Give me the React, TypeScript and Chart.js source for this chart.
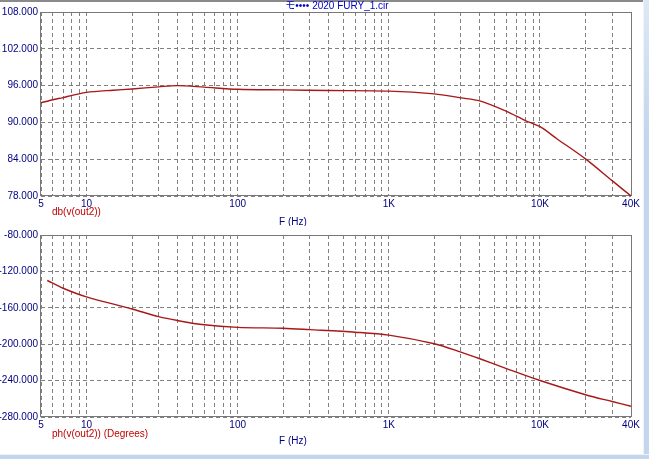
import React, { useEffect, useRef } from 'react';
import { Chart, registerables } from 'chart.js';

Chart.register(...registerables);

// ---- data ----
const magFreqs = [5, 6, 7, 8, 10, 15, 20, 30, 40, 60, 100, 200, 400, 1000, 2000, 3000, 4000, 6000, 8000, 10000, 13000, 20000, 30000, 40000];
const magDb = [93.2, 93.7, 94.05, 94.4, 94.9, 95.25, 95.45, 95.8, 96.0, 95.75, 95.4, 95.3, 95.2, 95.1, 94.65, 94.0, 93.5, 91.8, 90.3, 89.3, 87.3, 84.05, 80.5, 78.0];

const phaseFreqs = [5.5, 7, 10, 20, 30, 40, 60, 100, 200, 300, 600, 1000, 2000, 3000, 4000, 6000, 10000, 20000, 30000, 40000];
const phaseDeg = [-130, -138.5, -148, -161.3, -169.7, -174, -178.7, -181.5, -182.5, -184, -186.8, -190, -199.5, -208.7, -216, -226.8, -239.9, -255.5, -263, -268.2];

const xTicks = [5, 6, 7, 8, 9, 10, 20, 30, 40, 50, 60, 70, 80, 90, 100, 200, 300, 400, 500, 600, 700, 800, 900, 1000, 2000, 3000, 4000, 5000, 6000, 7000, 8000, 9000, 10000, 20000, 30000, 40000];
const xTickLabels: Record<number, string> = { 5: '5', 10: '10', 100: '100', 1000: '1K', 10000: '10K', 40000: '40K' };

const magTicks = [78, 84, 90, 96, 102, 108];
const phaseTicks = [-280, -240, -200, -160, -120, -80];

const titleText = 'モ•••• 2020 FURY_1.cir';
const xAxisLabel = 'F (Hz)';
const magLabel = 'db(v(out2))';
const phaseLabel = 'ph(v(out2)) (Degrees)';

// ---- styles ----
const FONT = "'Liberation Sans', 'Noto Sans CJK JP', sans-serif";
const NAVY = '#000080';
const RED_TEXT = '#c00000';
const CURVE = '#a81818';
const GRID = '#808080';
const W = 643;

type PanelOpts = {
  freqs: number[];
  values: number[];
  yTicks: number[];
  label: string;
  labelDy: number;
  fDy: number;
  padTop: number;
  xHeight: number;
  title?: string;
};

function makeChart(canvas: HTMLCanvasElement, p: PanelOpts) {
  const decor = {
    id: 'decor',
    beforeDatasetsDraw(chart: any) {
      const { ctx, chartArea: a } = chart;
      ctx.save();
      ctx.strokeStyle = '#787878';
      ctx.lineWidth = 1;
      ctx.setLineDash([]);
      const l = Math.round(a.left) - 0.5;
      const t = Math.round(a.top) + 0.5;
      ctx.strokeRect(l, t, Math.round(a.right) - l + 0.5, Math.round(a.bottom) - t - 0.5);
      ctx.restore();
    },
    afterDraw(chart: any) {
      const { ctx, chartArea: a } = chart;
      ctx.save();
      ctx.font = `10px ${FONT}`;
      ctx.textBaseline = 'middle';
      ctx.textAlign = 'left';
      ctx.fillStyle = RED_TEXT;
      ctx.fillText(p.label, a.left + 11, a.bottom + p.labelDy);
      ctx.fillStyle = NAVY;
      ctx.textAlign = 'center';
      ctx.fillText(xAxisLabel, a.left + 252, a.bottom + p.fDy);
      if (p.title) {
        ctx.fillStyle = '#0000cc';
        ctx.fillText(p.title, (a.left + a.right) / 2 + 1, 6.5);
      }
      ctx.restore();
    },
  };

  return new Chart(canvas, {
    type: 'line',
    data: {
      datasets: [
        {
          data: p.freqs.map((f, i) => ({ x: f, y: p.values[i] })),
          borderColor: CURVE,
          borderWidth: 1.4,
          pointRadius: 0,
          tension: 0.3,
          fill: false,
        },
      ],
    },
    options: {
      responsive: false,
      animation: false,
      layout: { padding: { top: p.padTop, right: W - 631, left: 0, bottom: 0 } },
      plugins: { legend: { display: false }, tooltip: { enabled: false }, title: { display: false } },
      scales: {
        x: {
          type: 'logarithmic',
          min: 5,
          max: 40000,
          afterBuildTicks: (s: any) => {
            s.ticks = xTicks.map((v) => ({ value: v }));
          },
          afterFit: (s: any) => {
            s.height = p.xHeight;
          },
          ticks: {
            autoSkip: false,
            maxRotation: 0,
            minRotation: 0,
            padding: 2,
            color: NAVY,
            font: { family: FONT, size: 10 },
            callback: (v: any) => xTickLabels[Number(v)] ?? '',
          },
          grid: { color: GRID, lineWidth: 1, drawTicks: false },
          border: { display: false, dash: [4, 3] },
        },
        y: {
          type: 'linear',
          min: p.yTicks[0],
          max: p.yTicks[p.yTicks.length - 1],
          afterBuildTicks: (s: any) => {
            s.ticks = p.yTicks.map((v) => ({ value: v }));
          },
          afterFit: (s: any) => {
            s.width = 41;
          },
          ticks: {
            padding: 3,
            color: NAVY,
            font: { family: FONT, size: 10 },
            callback: (v: any) => Number(v).toFixed(3),
          },
          grid: { color: GRID, lineWidth: 1, drawTicks: false },
          border: { display: false, dash: [4, 3] },
        },
      },
    },
    plugins: [decor],
  } as any);
}

export default function App() {
  const topRef = useRef<HTMLCanvasElement>(null);
  const botRef = useRef<HTMLCanvasElement>(null);

  useEffect(() => {
    document.body.style.margin = '0';
    const c1 = makeChart(topRef.current!, {
      freqs: magFreqs,
      values: magDb,
      yTicks: magTicks,
      label: magLabel,
      labelDy: 16,
      fDy: 26,
      padTop: 12,
      xHeight: 30,
      title: titleText,
    });
    const c2 = makeChart(botRef.current!, {
      freqs: phaseFreqs,
      values: phaseDeg,
      yTicks: phaseTicks,
      label: phaseLabel,
      labelDy: 17,
      fDy: 24,
      padTop: 7,
      xHeight: 36,
    });
    return () => {
      c1.destroy();
      c2.destroy();
    };
  }, []);

  return (
    <div style={{ position: 'relative', width: 649, height: 459, background: '#fff', overflow: 'hidden' }}>
      <div style={{ position: 'absolute', left: 0, top: 0, width: 643, height: 2, background: '#8a8a8a' }} />
      <canvas ref={topRef} width={W} height={226} style={{ position: 'absolute', left: 0, top: 0, width: W, height: 226 }} />
      <canvas ref={botRef} width={W} height={227} style={{ position: 'absolute', left: 0, top: 226, width: W, height: 227 }} />
      <div style={{ position: 'absolute', left: 643, top: 0, width: 6, height: 459, background: 'linear-gradient(#dde8f5, #c3d6ee 30%)', borderLeft: '1px solid #eef3fa' }} />
      <div style={{ position: 'absolute', left: 0, top: 454, width: 649, height: 5, background: '#c3d6ee', borderTop: '1px solid #eef3fa' }} />
    </div>
  );
}
